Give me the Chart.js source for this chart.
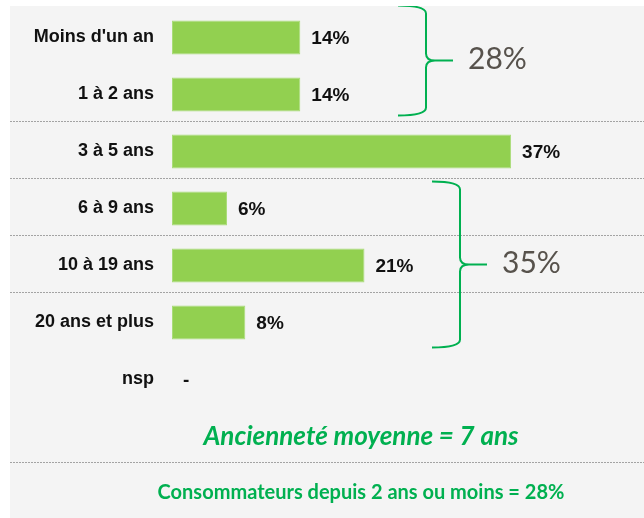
<!DOCTYPE html>
<html>
<head>
<meta charset="utf-8">
<script src="https://cdn.jsdelivr.net/npm/chart.js@4/dist/chart.umd.min.js"></script>
<style>
  html, body { margin: 0; padding: 0; background: #ffffff; }
  #wrap { position: absolute; left: 10px; top: 6px; width: 634px; height: 512px; background: #f4f4f4; }
  canvas { display: block; }
</style>
</head>
<body>
<div id="wrap"><canvas id="c" width="634" height="512"></canvas></div>
<script>
// ---- data ----
const categories = ["Moins d'un an", "1 à 2 ans", "3 à 5 ans", "6 à 9 ans", "10 à 19 ans", "20 ans et plus", "nsp"];
const values = [14, 14, 37, 6, 21, 8, 0];
const valueLabels = ["14%", "14%", "37%", "6%", "21%", "8%", "-"];
const groupFrom = [0, 3];
const groupTo = [1, 5];
const groupLabels = ["28%", "35%"];
const separatorsAfter = [1, 2, 3, 4];
const noteMain = "Ancienneté moyenne = 7 ans";
const noteSub = "Consommateurs depuis 2 ans ou moins = 28%";

const GREEN = '#00b050';

const annotate = {
  id: 'annotate',
  beforeDatasetsDraw(chart) {
    const ctx = chart.ctx, y = chart.scales.y, ca = chart.chartArea;
    ctx.save();
    ctx.strokeStyle = '#a3a3a3';
    ctx.lineWidth = 1;
    ctx.setLineDash([2, 1]);
    separatorsAfter.forEach(i => {
      const py = Math.round((y.getPixelForValue(i) + y.getPixelForValue(i + 1)) / 2) - 1.5;
      ctx.beginPath(); ctx.moveTo(0, py); ctx.lineTo(chart.width, py); ctx.stroke();
    });
    const ly = Math.round(ca.bottom + 54) + 0.5;
    ctx.beginPath(); ctx.moveTo(0, ly); ctx.lineTo(chart.width, ly); ctx.stroke();
    ctx.restore();
  },
  afterDatasetsDraw(chart) {
    const ctx = chart.ctx, y = chart.scales.y, ca = chart.chartArea;
    const meta = chart.getDatasetMeta(0);
    ctx.save();
    // value labels
    ctx.fillStyle = '#111111';
    ctx.font = 'bold 19px "Liberation Sans", Arial, sans-serif';
    ctx.textAlign = 'left';
    ctx.textBaseline = 'middle';
    meta.data.forEach((bar, i) => {
      ctx.fillText(valueLabels[i], bar.x + 11, bar.y + 1);
    });
    // braces
    const braceX = [254, 288];
    const topOff = [-32, -27];
    const botOff = [21, 25];
    ctx.strokeStyle = GREEN;
    ctx.lineWidth = 2;
    groupFrom.forEach((f, g) => {
      const top = y.getPixelForValue(f) + topOff[g];
      const bottom = y.getPixelForValue(groupTo[g]) + botOff[g];
      const mid = (top + bottom) / 2;
      const xv = ca.left + braceX[g];
      const x0 = xv - 28, xt = xv + 27;
      ctx.beginPath();
      ctx.moveTo(x0, top);
      ctx.quadraticCurveTo(xv, top, xv, top + 8);
      ctx.lineTo(xv, mid - 7);
      ctx.quadraticCurveTo(xv, mid, xv + 9, mid);
      ctx.lineTo(xt, mid);
      ctx.moveTo(xv + 9, mid);
      ctx.quadraticCurveTo(xv, mid, xv, mid + 7);
      ctx.lineTo(xv, bottom - 8);
      ctx.quadraticCurveTo(xv, bottom, x0, bottom);
      ctx.stroke();
      ctx.fillStyle = '#57524c';
      ctx.font = '30px Lato, "Open Sans", sans-serif';
      ctx.textAlign = 'left';
      ctx.textBaseline = 'middle';
      ctx.fillText(groupLabels[g], xt + 15, mid - 1);
    });
    // notes
    const cx = 351;
    ctx.fillStyle = GREEN;
    ctx.textAlign = 'center';
    ctx.textBaseline = 'middle';
    ctx.font = 'italic bold 26px Lato, "Open Sans", sans-serif';
    ctx.fillText(noteMain, cx, ca.bottom + 29);
    ctx.font = 'bold 20px Lato, "Open Sans", sans-serif';
    ctx.fillText(noteSub, cx, ca.bottom + 85);
    ctx.restore();
  }
};

new Chart(document.getElementById('c'), {
  type: 'bar',
  data: {
    labels: categories,
    datasets: [{
      data: values,
      backgroundColor: '#92d050',
      borderColor: '#a9dc78',
      borderWidth: 1,
      borderSkipped: false,
      categoryPercentage: 1,
      barPercentage: 0.6
    }]
  },
  options: {
    indexAxis: 'y',
    responsive: false,
    animation: false,
    events: [],
    layout: { padding: { top: 3, bottom: 110, left: 0, right: 0 } },
    plugins: { legend: { display: false }, tooltip: { enabled: false } },
    scales: {
      x: { display: false, min: 0, max: 51.5 },
      y: {
        grid: { display: false, drawTicks: false },
        border: { display: false },
        afterFit(scale) { scale.width = 162; scale.paddingTop = 0; scale.paddingBottom = 0; },
        ticks: {
          color: '#111111',
          padding: 18,
          font: { family: '"Liberation Sans", Arial, sans-serif', size: 18, weight: 'bold' }
        }
      }
    }
  },
  plugins: [annotate]
});
</script>
</body>
</html>
